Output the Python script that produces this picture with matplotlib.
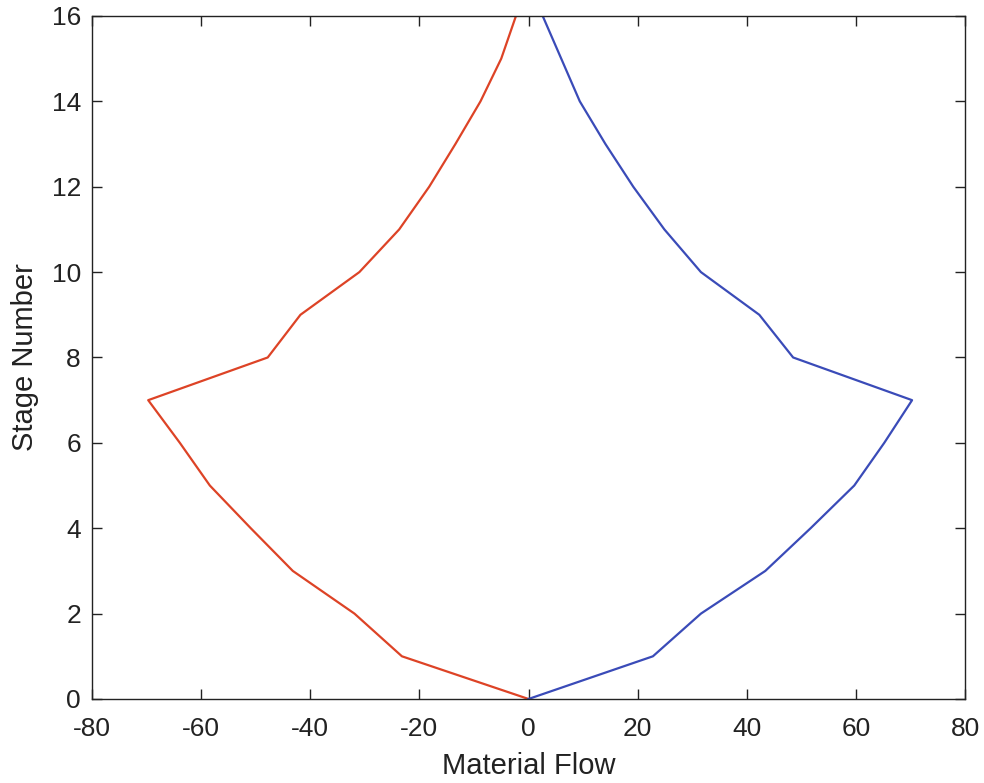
import matplotlib
matplotlib.use("Agg")
import matplotlib.pyplot as plt

stages = [0, 1, 2, 3, 4, 5, 6, 7, 8, 9, 10, 11, 12, 13, 14, 15, 16]
flow_pos = [0.0, 22.8, 31.6, 43.4, 51.7, 59.7, 65.2, 70.3, 48.5, 42.3, 31.6,
            24.9, 19.2, 14.1, 9.4, 6.0, 2.6]
flow_neg = [0.0, -23.2, -31.9, -43.2, -50.9, -58.4, -63.9, -69.7, -47.8, -41.8,
            -31.0, -23.7, -18.2, -13.4, -8.8, -5.0, -2.3]

xticks = [-80, -60, -40, -20, 0, 20, 40, 60, 80]
yticks = [0, 2, 4, 6, 8, 10, 12, 14, 16]

plt.rcParams['font.family'] = ['Liberation Sans', 'DejaVu Sans']
plt.rcParams['axes.unicode_minus'] = False

fig = plt.figure(figsize=(9.84, 7.83), dpi=100)
ax = fig.add_axes([0.0935, 0.1073, 0.8872, 0.8723])

ax.plot(flow_neg, stages, color='#DD4326', lw=1.6)
ax.plot(flow_pos, stages, color='#3A4BB8', lw=1.6)

ax.set_xlim(-80, 80)
ax.set_ylim(0, 16)
ax.set_xticks(xticks)
ax.set_yticks(yticks)
ax.tick_params(direction='in', top=True, right=True, length=7, width=1.0,
               labelsize=19, colors='#222222')
ax.tick_params(axis='x', pad=13)
ax.tick_params(axis='y', pad=8)
for s in ax.spines.values():
    s.set_linewidth(1.0)
    s.set_color('#222222')

ax.set_xlabel('Material Flow', fontsize=21, labelpad=8, color='#222222')
ax.set_ylabel('Stage Number', fontsize=21, labelpad=9, color='#222222')

fig.savefig('out.png', dpi=100)
